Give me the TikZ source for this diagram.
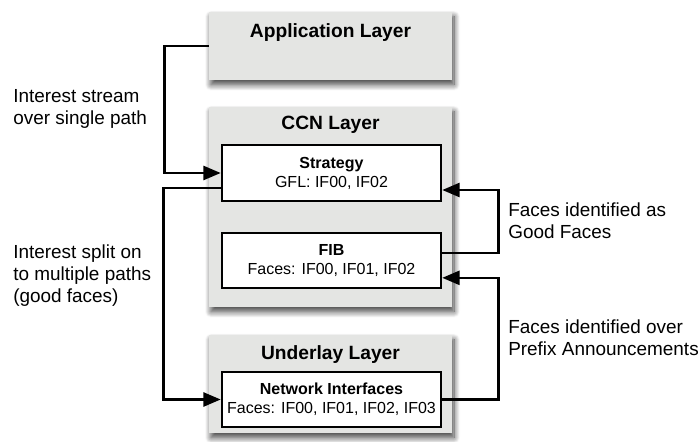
\documentclass[tikz,border=0pt]{standalone}
\usepackage{fontspec}
\setmainfont{Liberation Sans}
\usetikzlibrary{arrows.meta,shadows.blur}
\definecolor{layerfill}{RGB}{228,229,227}
\begin{document}
\begin{tikzpicture}[x=0.75pt,y=-0.75pt,
  layer/.style={fill=layerfill, draw=none, minimum width=182.25pt, inner sep=0pt,
    blur shadow={shadow xshift=1.5pt, shadow yshift=-3.5pt, shadow blur radius=4.5pt, shadow blur steps=12, shadow opacity=75}},
  title/.style={font=\fontsize{14.4}{17}\selectfont\bfseries, inner sep=0pt},
  inner/.style={fill=white, draw=black, line width=1.9pt, minimum width=164.25pt, align=center,
    inner sep=0pt, font=\fontsize{12}{14.25}\selectfont},
  side/.style={font=\fontsize{14.2}{16.5}\selectfont, align=left, anchor=west, inner sep=0pt},
  conn/.style={line width=1.9pt, -{Triangle[length=13pt,width=10.5pt]}}]
\useasboundingbox (0,0) rectangle (700,442);
% layers
\node[layer, minimum height=51pt] (app) at (330.5,46) {};
\node[layer, minimum height=150pt] (ccn) at (330.5,207) {};
\node[layer, minimum height=73.5pt] (und) at (330.5,384) {};
\node[title] (apptitle) at (330.5,33) {Application Layer};
\node[title] (ccntitle) at (330.5,125) {CCN Layer};
\node[title] (undtitle) at (330.5,355) {Underlay Layer};
% inner boxes
\node[inner, minimum height=42pt] (strat) at (331.5,173) {{\bfseries Strategy}\\GFL: IF00, IF02};
\node[inner, minimum height=41.25pt] (fib) at (331.5,260.5) {{\bfseries FIB}\\Faces: IF00, IF01, IF02};
\node[inner, minimum height=41.25pt] (ni) at (331.5,399.5) {{\bfseries Network Interfaces}\\Faces: IF00, IF01, IF02, IF03};
% connectors
\draw[conn] (app.west) -- ++(-44,0) |- (strat.west);
\draw[conn] ([yshift=-11.25pt]strat.west) -- ++(-57,0) |- (ni.west);
\draw[conn] ([yshift=5.6pt]fib.east) -- ++(56,0) |- ([yshift=-12.75pt]strat.east);
\draw[conn] (ni.east) -- ++(56,0) |- ([yshift=-13pt]fib.east);
% labels
\node[side] (l1) at (13,109) {Interest stream\\over single path};
\node[side] (l2) at (13,275.5) {Interest split on\\to multiple paths\\(good faces)};
\node[side] (r1) at (508,221) {Faces identified as\\Good Faces};
\node[side] (r2) at (508,337.5) {Faces identified over\\Prefix Announcements};
\end{tikzpicture}
\end{document}
